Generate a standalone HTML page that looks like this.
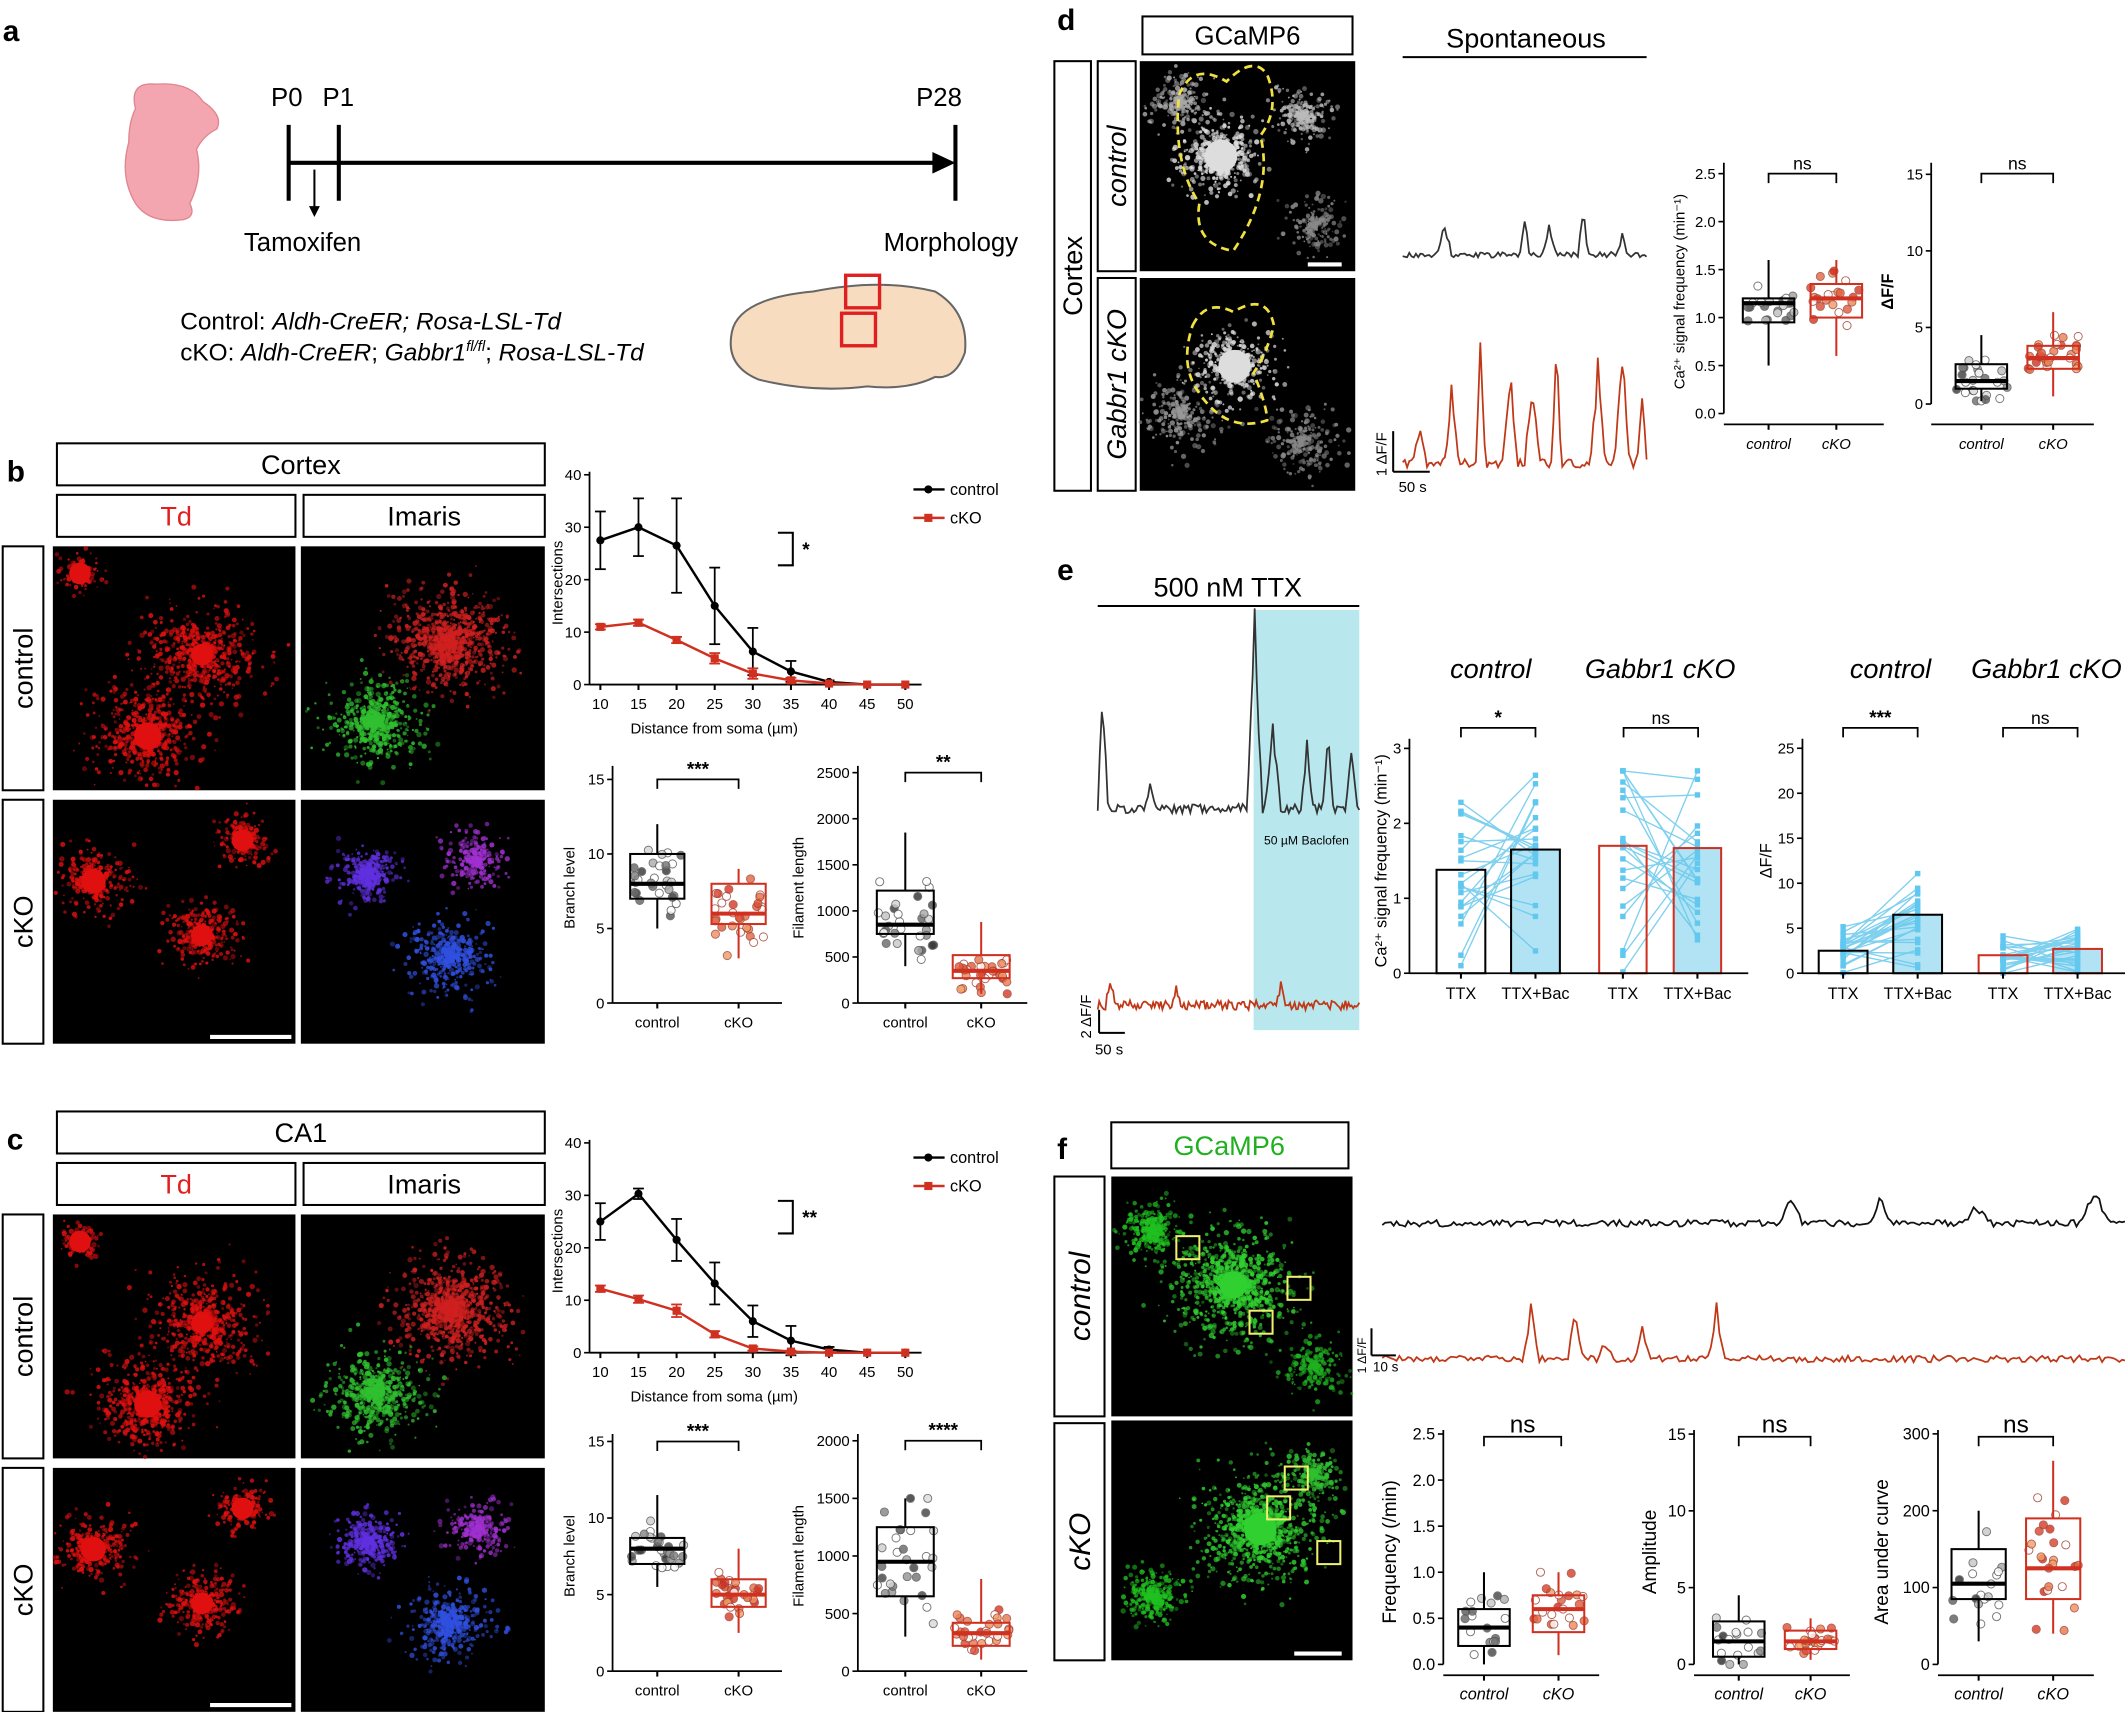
<!DOCTYPE html>
<html><head><meta charset="utf-8"><style>
html,body{margin:0;padding:0;background:#fff;}
svg{display:block;font-family:"Liberation Sans",Arial,sans-serif;}
</style></head><body>
<svg id="s" xmlns="http://www.w3.org/2000/svg" width="2125" height="1712" viewBox="0 0 1568 1263">
<rect width="1568" height="1263" fill="#fff"/>
</svg>
<script>
const S=document.getElementById('s');const NS='http://www.w3.org/2000/svg';
function el(t,a,txt){const e=document.createElementNS(NS,t);for(const k in a)e.setAttribute(k,a[k]);if(txt!==undefined)e.textContent=txt;S.appendChild(e);return e;}
let seed=7;function rnd(){seed=(seed*16807)%2147483647;return seed/2147483647;}
function gauss(){return (rnd()+rnd()+rnd()-1.5)/1.5;}
function T(x,y,s,sz,o){o=o||{};const a={x:x,y:y,'font-size':sz,fill:o.fill||'#000','text-anchor':o.a||'start'};if(o.w)a['font-weight']=o.w;if(o.i)a['font-style']='italic';if(o.r)a.transform=`rotate(-90 ${x} ${y})`;return el('text',a,s);}
function L(x1,y1,x2,y2,c,w,d){const a={x1,y1,x2,y2,stroke:c||'#000','stroke-width':w||1.5};if(d)a['stroke-dasharray']=d;return el('line',a);}
function R(x,y,w,h,f,s,sw){return el('rect',{x,y,width:w,height:h,fill:f||'none',stroke:s||'none','stroke-width':sw||1.5});}
function box(x,y,w,h,label,sz,color,rot,ital){R(x,y,w,h,'#fff','#000',1.5);if(rot)T(x+w/2+sz*0.35,y+h/2,label,sz,{a:'middle',r:1,i:ital,fill:color});else T(x+w/2,y+h/2+sz*0.35,label,sz,{a:'middle',fill:color,i:ital});}
function micro(x,y,w,h,clusters){R(x,y,w,h,'#000');for(const c of clusters){const [cx,cy,r0,col,n]=c;const r=r0*1.3;for(let i=0;i<n;i++){const a=rnd()*6.283,d=Math.abs(gauss())*r;const px=x+cx+Math.cos(a)*d,py=y+cy+Math.sin(a)*d*0.9;if(px<x||px>x+w||py<y||py>y+h)continue;el('circle',{cx:px,cy:py,r:0.6+rnd()*1.4,fill:col,opacity:0.4+rnd()*0.5});}if(c[5])el('circle',{cx:x+cx,cy:y+cy,r:c[5],fill:col});}}
function trace(x0,x1,yb,amp,n,col,peaks){let p='';for(let i=0;i<=n;i++){const x=x0+(x1-x0)*i/n;let v=rnd()*amp*0.35;for(const pk of peaks){const d=Math.abs(i/n-pk[0]);if(d<pk[2])v+=pk[1]*(1-d/pk[2])*(0.7+rnd()*0.3);}p+=(i?'L':'M')+x.toFixed(1)+' '+(yb-v).toFixed(1);}el('path',{d:p,fill:'none',stroke:col,'stroke-width':1.3});}
function yaxis(x,y0,y1,ticks,labFn,sz){L(x,y0,x,y1,'#000',1.3);for(const t of ticks){L(x-4,t[1],x,t[1],'#000',1.2);T(x-6,t[1]+sz*0.35,t[0],sz,{a:'end'});}}
function bp(cx,w,sc,y0,q1,md,q3,lo,hi,col,n){
  for(let i=0;i<n;i++){const v=md+gauss()*(q3-q1)*1.3;const vv=Math.max(lo,Math.min(hi,v));const g=Math.floor(rnd()*180+40);const f=col=='#000'?`rgb(${g},${g},${g})`:`rgb(${200+g/5|0},${g/1.3|0},${g/2|0})`;el('circle',{cx:cx+(rnd()-0.5)*w,cy:y0-vv*sc,r:3,fill:rnd()<0.3?'#fff':f,stroke:col=='#000'?'#555':'#a04030','stroke-width':0.7,opacity:0.8});}
  L(cx,y0-hi*sc,cx,y0-q3*sc,col,1.5);L(cx,y0-q1*sc,cx,y0-lo*sc,col,1.5);
  R(cx-w/2,y0-q3*sc,w,(q3-q1)*sc,'none',col,1.5);L(cx-w/2,y0-md*sc,cx+w/2,y0-md*sc,col,3);}
function bracket(x1,x2,y,lab,sz){el('path',{d:`M${x1} ${y+7}V${y}H${x2}V${y+7}`,fill:'none',stroke:'#000','stroke-width':1.3});T((x1+x2)/2,y-3,lab,sz||14,{a:'middle',w:lab=='ns'?'normal':'bold'});}
function xax(x0,x1,y,labs,ital,sz){L(x0,y,x1,y,'#000',1.3);for(const l of labs){L(l[1],y,l[1],y+4);T(l[1],y+18,l[0],sz||11,{a:'middle',i:ital});}}

// ---- panel a
T(2,30,'a',22,{w:'bold'});
el('path',{d:'M100 80 Q95 60 115 62 Q140 60 150 75 Q165 85 160 95 Q150 100 145 110 Q150 130 140 150 Q145 160 135 162 Q110 165 100 150 Q88 130 95 105 Q95 90 100 80Z',fill:'#f4a6b0',stroke:'#e08590','stroke-width':1});
L(213,92,213,148,'#000',3);L(250,92,250,148,'#000',3);L(705,92,705,148,'#000',3);L(213,120,690,120,'#000',3);
el('path',{d:'M705 120 L688 112 L688 128Z',fill:'#000'});
T(200,78,'P0',19);T(238,78,'P1',19);T(676,78,'P28',19);
L(232,125,232,155,'#000',1.5);el('path',{d:'M228 152 L236 152 L232 160Z',fill:'#000'});
T(180,185,'Tamoxifen',19);T(652,185,'Morphology',19);
el('text',{x:133,y:243,'font-size':18},'').innerHTML='Control: <tspan font-style="italic">Aldh-CreER; Rosa-LSL-Td</tspan>';
el('text',{x:133,y:266,'font-size':18},'').innerHTML='cKO: <tspan font-style="italic">Aldh-CreER</tspan>; <tspan font-style="italic">Gabbr1</tspan><tspan font-size="11" dy="-7" font-style="italic">fl/fl</tspan><tspan dy="7">; </tspan><tspan font-style="italic">Rosa-LSL-Td</tspan>';
el('path',{d:'M540 245 Q545 220 600 215 Q650 205 690 215 Q715 230 712 260 Q705 280 690 278 Q670 288 640 285 Q600 290 560 280 Q535 270 540 245Z',fill:'#f8dcc0',stroke:'#666','stroke-width':1.5});
R(624,203,25,24,'none','#e02020',2.5);R(621,231,25,24,'none','#e02020',2.5);

// ---- panels b & c
function panelBC(dy,letter,title,lc,lk,bl,fl){
  T(5,dy+355,letter,22,{w:'bold'});
  box(42,dy+327,360,31,title,20);box(42,dy+365,176,31,'Td',20,'#e02020');box(224,dy+365,178,31,'Imaris',20);
  box(2,dy+403,30,180,'control',20,'#000',1);box(2,dy+590,30,180,'cKO',20,'#000',1);
  micro(39,dy+403,179,180,[[70,140,50,'#e01010',700,10],[110,80,55,'#e01010',700,8],[20,20,20,'#e01010',150,8]]);
  micro(222,dy+403,180,180,[[110,70,55,'#d02020',1000],[55,130,45,'#30c030',700]]);
  micro(39,dy+590,179,180,[[30,60,35,'#e01010',400,9],[110,100,35,'#e01010',400,8],[140,30,25,'#e01010',250,8]]);
  micro(222,dy+590,180,180,[[50,55,30,'#6030e0',400],[130,45,30,'#a030d0',300],[110,115,40,'#3050e0',500]]);
  L(155,dy+765,215,dy+765,'#fff',3);
  const ox=435,oy=dy+505,sx=(v)=>443+(v-10)*5.625,sy=(v)=>oy-v*3.87;
  yaxis(ox,dy+348,oy,[[0,sy(0)],[10,sy(10)],[20,sy(20)],[30,sy(30)],[40,sy(40)]],null,11);
  xax(ox,680,oy,[10,15,20,25,30,35,40,45,50].map(v=>[v,sx(v)]),0,11);
  T(527,dy+541,'Distance from soma (µm)',11,{a:'middle'});T(415,dy+430,'Intersections',11,{a:'middle',r:1});
  const xs=[10,15,20,25,30,35,40,45,50];
  for(const [d,col,mk] of [[lc,'#000',0],[lk,'#d03020',1]]){let p='';d.forEach((v,i)=>{p+=(i?'L':'M')+sx(xs[i])+' '+sy(v[0]);if(v[1]){L(sx(xs[i]),sy(v[0]-v[1]),sx(xs[i]),sy(v[0]+v[1]),col,1.3);L(sx(xs[i])-4,sy(v[0]+v[1]),sx(xs[i])+4,sy(v[0]+v[1]),col,1.3);L(sx(xs[i])-4,sy(v[0]-v[1]),sx(xs[i])+4,sy(v[0]-v[1]),col,1.3);}});
    el('path',{d:p,fill:'none',stroke:col,'stroke-width':1.8});d.forEach((v,i)=>{if(mk)R(sx(xs[i])-3,sy(v[0])-3,6,6,col);else el('circle',{cx:sx(xs[i]),cy:sy(v[0]),r:3,fill:col});});}
  L(674,dy+361,697,dy+361,'#000',1.8);el('circle',{cx:685,cy:dy+361,r:3});T(701,dy+365,'control',12);
  L(674,dy+382,697,dy+382,'#d03020',1.8);R(682,dy+379,6,6,'#d03020');T(701,dy+386,'cKO',12);
  el('path',{d:`M574 ${dy+393}H585V${dy+417}H574`,fill:'none',stroke:'#000','stroke-width':1.5});T(592,dy+410,letter=='b'?'*':'**',14,{w:'bold'});
  const by=dy+740;
  yaxis(452,dy+565,by,[[0,by],[5,by-5*bl.s],[10,by-10*bl.s],[15,by-15*bl.s]],null,11);
  xax(452,577,by,[['control',485],['cKO',545]],0,11);T(424,dy+655,'Branch level',11,{a:'middle',r:1});
  bp(485,40,bl.s,by,...bl.c,'#000',30);bp(545,40,bl.s,by,...bl.k,'#d03020',30);bracket(485,545,by-15*bl.s,'***',14);
  const ft=fl.t;yaxis(633,dy+565,by,ft.map(v=>[v,by-v*fl.s]),null,11);
  xax(633,758,by,[['control',668],['cKO',724]],0,11);T(593,dy+655,'Filament length',11,{a:'middle',r:1});
  bp(668,42,fl.s,by,...fl.c,'#000',30);bp(724,42,fl.s,by,...fl.k,'#d03020',30);bracket(668,724,by-ft[ft.length-1]*fl.s,fl.star,14);
}
panelBC(0,'b','Cortex',[[27.5,5.5],[30,5.5],[26.5,9],[15,7.3],[6.3,4.5],[2.5,2],[0.5,0.3],[0,0],[0,0]],[[11,0.5],[11.8,0.6],[8.5,0.6],[5,1],[2.1,1],[0.8,0.5],[0.2,0],[0,0],[0,0]],
 {s:11,c:[7,8,10,5,12],k:[5.3,6,8,3,9]},{s:0.068,t:[0,500,1000,1500,2000,2500],c:[750,850,1220,400,1850],k:[270,350,520,100,880],star:'**'});
panelBC(493,'c','CA1',[[25,3.5],[30.3,1],[21.5,4],[13.2,4],[6,3],[2.3,2.8],[0.6,0.5],[0,0],[0,0]],[[12.2,0.6],[10.2,0.7],[8,1.2],[3.5,0.6],[0.8,0.4],[0.2,0.2],[0,0],[0,0],[0,0]],
 {s:11.3,c:[7,8,8.7,5.5,11.5],k:[4.2,5,6,2.5,8]},{s:0.085,t:[0,500,1000,1500,2000],c:[650,950,1250,300,1500],k:[220,330,420,100,800],star:'****'});

// ---- panel d
T(780,22,'d',22,{w:'bold'});
box(843,12,155,28,'GCaMP6',19);
box(778,45,27,317,'Cortex',20,'#000',1);box(810,45,28,155,'control',20,'#000',1,1);box(810,205,28,157,'Gabbr1 cKO',20,'#000',1,1);
micro(841,45,159,155,[[60,70,40,'#ddd',600,12],[30,30,30,'#aaa',250],[120,40,30,'#bbb',250],[130,120,30,'#888',200]]);
micro(841,205,159,157,[[70,65,40,'#ddd',500,12],[30,100,40,'#999',250],[120,120,40,'#888',250]]);
el('path',{d:'M870 70 Q880 45 905 60 Q925 40 935 55 Q945 80 930 100 Q940 140 910 185 Q880 180 885 150 Q865 120 870 70Z',fill:'none',stroke:'#f0e040','stroke-width':2,'stroke-dasharray':'6 4'});
el('path',{d:'M880 240 Q890 220 910 230 Q935 215 940 240 Q935 260 925 275 Q935 300 935 310 Q905 320 885 290 Q870 270 880 240Z',fill:'none',stroke:'#f0e040','stroke-width':2,'stroke-dasharray':'6 4'});
L(965,195,990,195,'#fff',3);
T(1126,35,'Spontaneous',20,{a:'middle'});L(1035,42,1215,42,'#000',1.5);
trace(1035,1215,190,12,110,'#333',[[0.17,28,0.03],[0.5,30,0.02],[0.74,45,0.02],[0.6,25,0.03],[0.9,20,0.02]]);
trace(1035,1215,345,18,110,'#c03818',[[0.07,30,0.03],[0.2,60,0.03],[0.32,100,0.02],[0.44,80,0.03],[0.53,75,0.03],[0.63,110,0.02],[0.8,85,0.03],[0.9,95,0.03],[0.98,60,0.02]]);
L(1028,318,1028,348);L(1028,348,1055,348);T(1023,335,'1 ΔF/F',11,{a:'middle',r:1});T(1032,363,'50 s',11);
const fy=305,fs=70.8;yaxis(1272,120,fy,[[0,fy],[0.5,fy-.5*fs],[1,fy-fs],[1.5,fy-1.5*fs],[2,fy-2*fs],[2.5,fy-2.5*fs]].map(t=>[t[0].toFixed(1),t[1]]),null,11);
xax(1272,1390,fy+8,[['control',1305],['cKO',1355]],1,11);
bp(1305,38,fs,fy,0.95,1.15,1.2,0.5,1.6,'#000',22);bp(1355,38,fs,fy,1.0,1.2,1.35,0.6,1.6,'#d03020',22);bracket(1305,1355,128,'ns',13);
T(1243,215,'Ca²⁺ signal frequency (min⁻¹)',11,{a:'middle',r:1});
const gy=298,gs=11.3;yaxis(1425,120,gy,[[0,gy],[5,gy-5*gs],[10,gy-10*gs],[15,gy-15*gs]],null,11);
xax(1425,1545,gy+15,[['control',1462],['cKO',1515]],1,11);
bp(1462,38,gs,gy,1,1.5,2.6,0.2,4.5,'#000',25);bp(1515,38,gs,gy,2.3,3,3.8,0.5,6,'#d03020',28);bracket(1462,1515,128,'ns',13);
T(1397,215,'ΔF/F',12,{a:'middle',r:1,w:'bold'});

// ---- panel e
T(780,428,'e',22,{w:'bold'});
T(906,440,'500 nM TTX',20,{a:'middle'});L(810,447,1003,447,'#000',1.5);
R(925,450,78,310,'#b8e8ee');T(964,623,'50 µM Baclofen',9,{a:'middle'});
trace(810,1003,600,20,130,'#333',[[0.02,100,0.02],[0.2,25,0.02],[0.6,150,0.03],[0.67,70,0.03],[0.8,60,0.02],[0.88,70,0.02],[0.97,55,0.02]]);
trace(810,1003,745,20,170,'#c03818',[[0.05,20,0.02],[0.3,15,0.02],[0.7,15,0.02]]);
L(811,745,811,762);L(811,762,830,762);T(805,750,'2 ΔF/F',11,{a:'middle',r:1});T(808,778,'50 s',11);
T(1100,500,'control',20,{a:'middle',i:1});T(1225,500,'Gabbr1 cKO',20,{a:'middle',i:1});
T(1395,500,'control',20,{a:'middle',i:1});T(1510,500,'Gabbr1 cKO',20,{a:'middle',i:1});
function barPlot(ax,x0,y0,sc,ticks,bars,ymax,npts,maxv){
  yaxis(ax,545,y0,ticks.map(v=>[v,y0-v*sc]),null,11);
  for(let p=0;p<2;p++){const a=bars[p*2],b=bars[p*2+1];
    for(let i=0;i<npts;i++){const v1=Math.min(maxv,Math.abs(a[2]+gauss()*a[2]*1.4)),v2=Math.min(maxv,Math.abs(b[2]+gauss()*b[2]*1.4));
      L(a[0]+a[1]/2,y0-v1*sc,b[0]+b[1]/2,y0-v2*sc,'#7fd0ef',1);R(a[0]+a[1]/2-2,y0-v1*sc-2,4,4,'#60c8f0');R(b[0]+b[1]/2-2,y0-v2*sc-2,4,4,'#60c8f0');}
    R(a[0],y0-a[2]*sc,a[1],a[2]*sc,'none',a[3],1.5);R(b[0],y0-b[2]*sc,b[1],b[2]*sc,'rgba(100,200,235,0.5)',b[3],1.5);}
  L(ax,y0,ax+250,y0,'#000',1.3);
  bars.forEach((b,i)=>{L(b[0]+b[1]/2,y0,b[0]+b[1]/2,y0+4);T(b[0]+b[1]/2,y0+19,i%2?'TTX+Bac':'TTX',12,{a:'middle'});});
}
barPlot(1040,0,718,55.3,[0,1,2,3],[[1060,36,1.38,'#000'],[1115,36,1.65,'#000'],[1180,35,1.7,'#d03020'],[1235,35,1.67,'#d03020']],3,22,2.7);
barPlot(1330,0,718,6.64,[0,5,10,15,20,25],[[1342,36,2.5,'#000'],[1397,36,6.5,'#000'],[1460,36,2,'#d03020'],[1515,36,2.7,'#d03020']],25,26,24);
bracket(1078,1133,537,'*',14);bracket(1198,1253,537,'ns',13);bracket(1360,1415,537,'***',14);bracket(1478,1533,537,'ns',13);
T(1023,635,'Ca²⁺ signal frequency (min⁻¹)',12,{a:'middle',r:1});T(1307,635,'ΔF/F',12,{a:'middle',r:1});

// ---- panel f
T(780,855,'f',22,{w:'bold'});
R(820,828,175,34,'#fff','#000',1.5);T(907,852,'GCaMP6',20,{a:'middle',fill:'#20b020'});
box(778,868,37,177,'control',22,'#000',1,1);box(778,1050,37,175,'cKO',22,'#000',1,1);
micro(820,868,178,177,[[90,80,60,'#30d030',1100,10],[30,40,30,'#20c020',350],[150,140,30,'#20b020',250]]);
micro(820,1048,178,177,[[110,80,60,'#30d030',1100,12],[30,130,30,'#20c020',350],[150,40,30,'#30c030',250]]);
for(const r of [[868,912],[950,942],[922,967],[948,1082],[935,1104],[972,1137]])R(r[0],r[1],17,17,'none','#f0f070',1.5);
L(955,1220,990,1220,'#fff',3);
trace(1020,1568,905,14,260,'#111',[[0.55,22,0.015],[0.67,20,0.015],[0.8,15,0.02],[0.96,25,0.02]]);
trace(1020,1568,1005,14,260,'#c03818',[[0.2,45,0.01],[0.26,45,0.01],[0.45,45,0.01],[0.35,25,0.01],[0.3,15,0.01]]);
L(1012,980,1012,1000);L(1012,1000,1030,1000);T(1008,1000,'1 ΔF/F',9,{a:'middle',r:1});T(1013,1012,'10 s',10);
const f0=1228;
yaxis(1065,1055,f0,[0,0.5,1,1.5,2,2.5].map(v=>[v.toFixed(1),f0-v*68]),null,12);xax(1065,1180,f0+8,[['control',1095],['cKO',1150]],1,12);
bp(1095,38,68,f0,0.2,0.4,0.6,0,1,'#000',18);bp(1150,38,68,f0,0.35,0.6,0.75,0.1,1,'#d03020',22);bracket(1095,1152,1060,'ns',18);
T(1030,1145,'Frequency (/min)',14,{a:'middle',r:1});
yaxis(1250,1055,f0,[0,5,10,15].map(v=>[v,f0-v*11.33]),null,12);xax(1250,1365,f0+8,[['control',1283],['cKO',1336]],1,12);
bp(1283,38,11.33,f0,0.5,1.5,2.8,0,4.5,'#000',18);bp(1336,38,11.33,f0,1,1.5,2.2,0.3,3,'#d03020',24);bracket(1283,1336,1060,'ns',18);
T(1222,1145,'Amplitude',14,{a:'middle',r:1});
yaxis(1430,1055,f0,[0,100,200,300].map(v=>[v,f0-v*0.567]),null,12);xax(1430,1545,f0+8,[['control',1460],['cKO',1515]],1,12);
bp(1460,40,0.567,f0,85,105,150,30,200,'#000',18);bp(1515,40,0.567,f0,85,125,190,40,265,'#d03020',24);bracket(1460,1515,1060,'ns',18);
T(1393,1145,'Area under curve',14,{a:'middle',r:1});
</script>
</body></html>
